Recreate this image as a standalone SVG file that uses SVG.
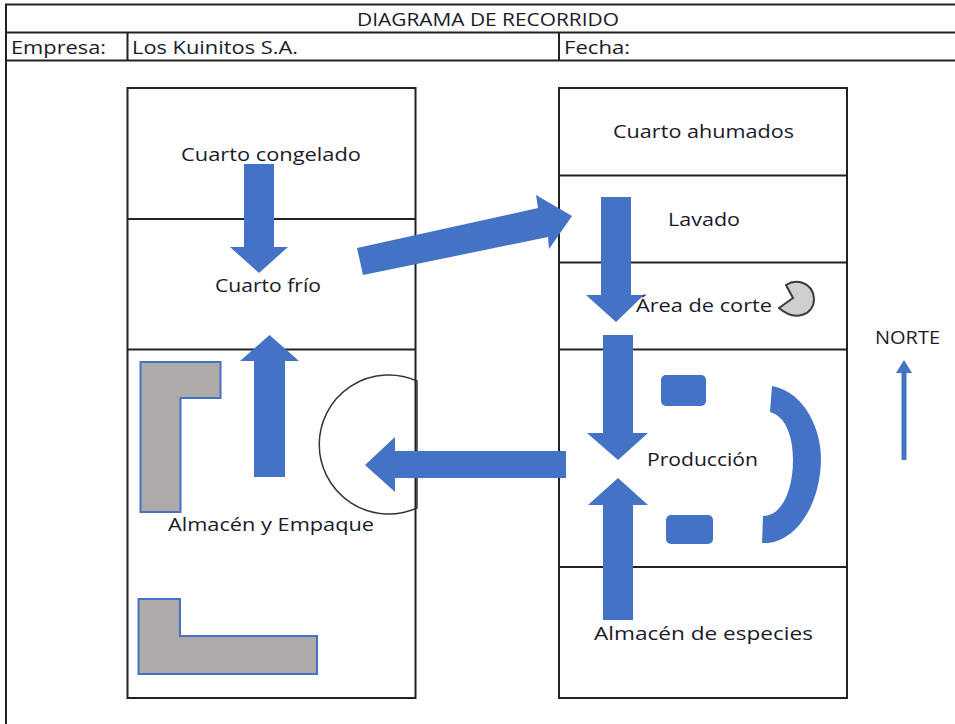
<svg xmlns="http://www.w3.org/2000/svg" width="955" height="724" viewBox="0 0 955 724">
<style>
.ln{stroke:#222;stroke-width:2;fill:none}
.t{font-family:"Open Sans","Noto Sans","Liberation Sans",sans-serif;font-size:18px;fill:#1a1a2a}
.a{fill:#4472C4;stroke:none}
.g{fill:#AEAAAA;stroke:#4472C4;stroke-width:2}
</style>
<rect width="955" height="724" fill="#fff"/>
<g id="form">
<path class="ln" d="M6 724V4.500H955M6 32.500H955M6 60.500H955M127.500 32.500V60.500M559 32.500V60.500"/>
<text class="t" x="357" y="26" textLength="262" lengthAdjust="spacingAndGlyphs">DIAGRAMA DE RECORRIDO</text>
<text class="t" x="11" y="54" textLength="95" lengthAdjust="spacingAndGlyphs">Empresa:</text>
<text class="t" x="132" y="54" textLength="166" lengthAdjust="spacingAndGlyphs">Los Kuinitos S.A.</text>
<text class="t" x="564" y="54" textLength="66" lengthAdjust="spacingAndGlyphs">Fecha:</text>
</g>
<g id="edificio-izquierdo"><rect class="ln" x="127.500" y="88" width="288" height="610"/></g>
<g id="edificio-derecho"><rect class="ln" x="559" y="88" width="288" height="610"/></g>
<g id="cuarto-congelado"><path class="ln" d="M127.500 219H415.500"/></g>
<g id="cuarto-frio"><path class="ln" d="M127.500 349.500H415.500"/></g>
<g id="cuarto-ahumados"><path class="ln" d="M559 175.500H847"/></g>
<g id="lavado"><path class="ln" d="M559 262.500H847"/></g>
<g id="area-corte"><path class="ln" d="M559 349.500H847"/>
<path d="M786 285C795 279 813 281 814 299C814 315 795 322 779 308L793 298Z" fill="#D0CECE" stroke="#3a3a3a" stroke-width="2"/></g>
<g id="produccion"><path class="ln" d="M559 567H847"/>
<rect class="a" x="661" y="375" width="45" height="31" rx="5"/>
<rect class="a" x="666" y="515" width="47" height="29" rx="5"/>
<path class="a" d="M772 386C805 392 821 430 821 458C821 505 795 545 762 543L763 516C782 516 793 490 793 460C793 435 785 416 770 412Z"/></g>
<g id="almacen-empaque">
<path class="g" d="M140.500 362H220.500V398H180.500V512H140.500Z"/>
<path class="g" d="M138.500 599H180V636H317V674H138.500Z"/>
<path d="M417 381A69.500 69.500 0 1 0 417 508Z" fill="none" stroke="#333" stroke-width="1.500"/></g>
<g id="conectores">
<path class="a" d="M244 164H274V247H288L259 273L230 247H244Z"/>
<path class="a" d="M254 477V361H240L269.500 335L299 361H285V477Z"/>
<path class="a" d="M357 248L538 208L536 195L572 216L549 249L548 237L363 275Z"/>
<path class="a" d="M601 197H631V295H644L616 322L586 295H601Z"/>
<path class="a" d="M603 335H633V433H648L618 460L587 433H603Z"/>
<path class="a" d="M603 620V505H588L618 478L648 505H633V620Z"/>
<path class="a" d="M566 451V478H395V492L365 465L395 437V451Z"/>
<path class="a" d="M901.500 460V373H896L904 360L912 373H906.500V460Z"/>
</g>
<g id="etiquetas">
<text class="t" x="181" y="160.700" textLength="180" lengthAdjust="spacingAndGlyphs">Cuarto congelado</text>
<text class="t" x="215" y="291.700" textLength="106" lengthAdjust="spacingAndGlyphs">Cuarto frío</text>
<text class="t" x="613" y="137.700" textLength="181" lengthAdjust="spacingAndGlyphs">Cuarto ahumados</text>
<text class="t" x="668" y="225.500" textLength="72" lengthAdjust="spacingAndGlyphs">Lavado</text>
<text class="t" x="636" y="311.700" textLength="136" lengthAdjust="spacingAndGlyphs">Área de corte</text>
<text class="t" x="875" y="343.500" textLength="65" lengthAdjust="spacingAndGlyphs">NORTE</text>
<text class="t" x="647" y="465.700" textLength="111" lengthAdjust="spacingAndGlyphs">Producción</text>
<text class="t" x="168" y="530.500" textLength="206" lengthAdjust="spacingAndGlyphs">Almacén y Empaque</text>
<text class="t" x="594" y="639.700" textLength="219" lengthAdjust="spacingAndGlyphs">Almacén de especies</text>
</g>
</svg>
